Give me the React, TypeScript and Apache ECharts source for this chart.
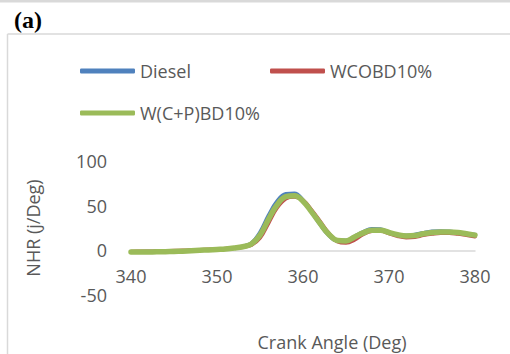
import React, { useEffect, useRef } from "react";
import * as echarts from "echarts";

// Crank angle (deg), 1-degree steps
const crankAngle = [
  340, 341, 342, 343, 344, 345, 346, 347, 348, 349, 350, 351, 352, 353, 354, 355, 356, 357, 358, 359, 360,
  361, 362, 363, 364, 365, 366, 367, 368, 369, 370, 371, 372, 373, 374, 375, 376, 377, 378, 379, 380,
];

// Net heat release (J/deg)
const diesel = [
  -1.8, -1.8, -1.7, -1.5, -1.3, -1.0, -0.8, -0.4, 0.0, 0.5, 1.0, 1.6, 2.6, 4.2, 8, 20, 39, 55, 63, 63.5, 56,
  43, 29, 17, 11, 11, 15.5, 20.5, 24, 23.5, 20, 17, 16.5, 17.5, 19.5, 21, 21.5, 21, 20, 18.5, 17.5,
];
const wcobd10 = [
  -1.5, -1.4, -1.3, -1.1, -0.9, -0.6, -0.3, 0.0, 0.4, 0.8, 1.3, 1.8, 2.6, 3.8, 6, 14, 31, 48, 58, 60, 56,
  45, 32, 19, 10, 8.5, 12, 18, 21.5, 22, 19, 16, 14.5, 15, 17, 18.5, 19.5, 19.5, 18.5, 17, 15.5,
];
const wcpbd10 = [
  -2.0, -2.0, -1.9, -1.7, -1.5, -1.2, -0.9, -0.5, 0.0, 0.5, 1.0, 1.5, 2.5, 4.0, 7, 17, 35, 51, 60, 61, 55,
  43, 30, 18, 11, 10.5, 15, 19.5, 22.5, 22.5, 20, 17.5, 16, 16.5, 18.5, 20, 20.5, 20.5, 20, 18.5, 17,
];

const seriesNames = ["Diesel", "WCOBD10%", "W(C+P)BD10%"];
const seriesColors = ["#4f81bd", "#c0504d", "#9bbb59"];
const xTicks = { min: 340, max: 380, step: 10 };
const yTicks = { min: -50, max: 100, step: 50 };

const FONT = "'Open Sans', sans-serif";
const TEXT = "#595959";
const RULE = "#d9d9d9";

const GRID = { left: 131, right: 35, top: 161, bottom: 59 };
const CHART_H = 354;

export default function App() {
  const ref = useRef<HTMLDivElement>(null);

  useEffect(() => {
    if (!ref.current) return;
    const chart = echarts.init(ref.current, null, { renderer: "svg" });
    const values = [diesel, wcobd10, wcpbd10];
    const widths = [4, 4, 5.5];

    // the horizontal axis crosses the value axis at 0: shift it up from the grid's bottom edge
    const plotH = CHART_H - GRID.top - GRID.bottom;
    const zeroFromBottom = ((0 - yTicks.min) / (yTicks.max - yTicks.min)) * plotH;

    const legendPos = [
      { left: 80, top: 61 },
      { left: 270, top: 61 },
      { left: 80, top: 103 },
    ];

    chart.setOption({
      animation: false,
      textStyle: { fontFamily: FONT },
      grid: GRID,
      legend: seriesNames.map((name, i) => ({
        data: [name],
        left: legendPos[i].left,
        top: legendPos[i].top,
        icon: "roundRect",
        itemWidth: 55,
        itemHeight: 5,
        padding: 0,
        textStyle: { color: TEXT, fontSize: 18, fontFamily: FONT, lineHeight: 20 },
      })),
      xAxis: {
        type: "value",
        min: xTicks.min,
        max: xTicks.max,
        interval: xTicks.step,
        offset: -zeroFromBottom,
        axisLine: { show: true, onZero: false, lineStyle: { color: RULE, width: 1.5 } },
        axisTick: { show: false },
        splitLine: { show: false },
        axisLabel: { color: TEXT, fontSize: 18, fontFamily: FONT, margin: 17 },
      },
      yAxis: {
        type: "value",
        min: yTicks.min,
        max: yTicks.max,
        interval: yTicks.step,
        axisLine: { show: false },
        axisTick: { show: false },
        splitLine: { show: false },
        axisLabel: { color: TEXT, fontSize: 18, fontFamily: FONT, margin: 24 },
        name: "NHR (j/Deg)",
        nameLocation: "middle",
        nameGap: 89,
        nameTextStyle: { color: TEXT, fontSize: 18, fontFamily: FONT },
      },
      series: seriesNames.map((name, i) => ({
        name,
        type: "line",
        data: crankAngle.map((x, k) => [x, values[i][k]]),
        smooth: 0.4,
        showSymbol: false,
        symbol: "none",
        color: seriesColors[i],
        lineStyle: { color: seriesColors[i], width: widths[i], cap: "round", join: "round" },
      })),
      graphic: [
        { type: "rect", shape: { x: 0, y: 0, width: 510, height: 2.5 }, style: { fill: RULE } },
        { type: "line", shape: { x1: 7.5, y1: 34, x2: 510, y2: 34 }, style: { stroke: RULE, lineWidth: 1.5 } },
        { type: "line", shape: { x1: 7.5, y1: 34, x2: 7.5, y2: 354 }, style: { stroke: RULE, lineWidth: 1.5 } },
        {
          type: "text",
          left: 14,
          top: 8,
          style: { text: "(a)", font: "bold 24px 'Liberation Serif', serif", fill: "#000" },
        },
        {
          type: "text",
          x: 332,
          y: 342,
          style: {
            text: "Crank Angle (Deg)",
            font: `18px ${FONT}`,
            fill: TEXT,
            textAlign: "center",
            textVerticalAlign: "middle",
          },
        },
      ],
    });

    return () => chart.dispose();
  }, []);

  return (
    <div
      ref={ref}
      style={{ position: "fixed", left: 0, top: 0, width: 510, height: 354, background: "#fff" }}
    />
  );
}
